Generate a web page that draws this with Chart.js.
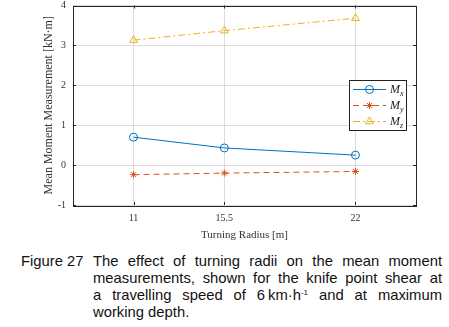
<!DOCTYPE html>
<html lang="en">
<head>
<meta charset="UTF-8">
<title>Turning radius vs mean moment</title>
<script src="https://cdn.jsdelivr.net/npm/chart.js"></script>
<style>
    body { margin: 0; background: #fff; width: 449px; height: 327px; overflow: hidden; position: relative; }
    #wrap { position: absolute; left: 0; top: 0; width: 449px; height: 242px; }
    .caption { position: absolute; left: 21px; top: 253px; font-family: "Liberation Sans", Arial, sans-serif; font-size: 14.8px; line-height: 17px; color: #111; }
    .caption .num { position: absolute; left: 0; top: 0; white-space: nowrap; }
    .caption .txt { position: absolute; left: 72px; top: 0; width: 349px; }
    .caption .ln { display: block; white-space: nowrap; text-align: justify; text-align-last: justify; }
    .caption .ln.end { text-align-last: left; }
    .caption sup { font-size: 8px; line-height: 0; vertical-align: 5px; }
</style>
</head>
<body>
<div id="wrap"><canvas id="chart" width="449" height="242"></canvas></div>
<div class="caption">
    <span class="num">Figure 27</span>
    <div class="txt">
        <span class="ln">The effect of turning radii on the mean moment</span>
        <span class="ln">measurements, shown for the knife point shear at</span>
        <span class="ln">a travelling speed of 6&#8201;km&middot;h<sup>-1</sup> and at maximum</span>
        <span class="ln end">working depth.</span>
    </div>
</div>
<script>
const radii = [11, 15.5, 22];
const mx = [0.70, 0.43, 0.25];
const my = [-0.24, -0.20, -0.16];
const mz = [3.13, 3.37, 3.68];
const seriesNames = ['x', 'y', 'z'];
const yTitle = 'Mean Moment Measurement [kN\u00b7m]';

const serif = '"Liberation Serif", "Times New Roman", serif';

function pts(vals) {
    return radii.map((r, i) => ({ x: r, y: vals[i] }));
}

// legend drawn inside the plot, MATLAB style
const boxLegend = {
    id: 'boxLegend',
    afterDraw(chart) {
        const ctx = chart.ctx;
        const x0 = 349, y0 = 80, w = 57, h = 50;
        ctx.save();
        ctx.fillStyle = '#fff';
        ctx.fillRect(x0, y0, w, h);
        ctx.strokeStyle = '#222';
        ctx.lineWidth = 1;
        ctx.strokeRect(x0 + 0.5, y0 + 0.5, w, h);
        chart.data.datasets.forEach((ds, i) => {
            const y = 89.5 + i * 16;
            ctx.strokeStyle = ds.borderColor;
            ctx.lineWidth = 1;
            ctx.setLineDash(ds.borderDash || []);
            ctx.beginPath();
            ctx.moveTo(353, y);
            ctx.lineTo(386, y);
            ctx.stroke();
            ctx.setLineDash([]);
            ctx.fillStyle = 'rgba(0,0,0,0)';
            Chart.helpers.drawPoint(ctx, {
                pointStyle: ds.pointStyle, radius: ds.pointRadius, borderWidth: 1, rotation: 0
            }, 369.5, y);
            ctx.fillStyle = '#222';
            ctx.font = 'italic 12px ' + serif;
            ctx.textBaseline = 'middle';
            ctx.fillText('M', 390, y);
            ctx.font = 'italic 8px ' + serif;
            ctx.fillText(seriesNames[i], 400, y + 4);
        });
        ctx.restore();
    }
};

// full box round the plot with inner ticks, plus the y title
const frame = {
    id: 'frame',
    afterDatasetsDraw(chart) {
        const a = chart.chartArea, ctx = chart.ctx;
        const xs = chart.scales.x, ys = chart.scales.y;
        ctx.save();
        ctx.strokeStyle = '#262626';
        ctx.lineWidth = 1;
        ctx.strokeRect(Math.round(a.left) + 0.5, Math.round(a.top) + 0.5, Math.round(a.right - a.left), Math.round(a.bottom - a.top));
        ctx.beginPath();
        ys.ticks.forEach(t => {
            const y = Math.round(ys.getPixelForValue(t.value)) + 0.5;
            ctx.moveTo(a.left, y); ctx.lineTo(a.left + 3, y);
            ctx.moveTo(a.right, y); ctx.lineTo(a.right - 3, y);
        });
        xs.ticks.forEach(t => {
            const x = Math.round(xs.getPixelForValue(t.value)) + 0.5;
            ctx.moveTo(x, a.bottom); ctx.lineTo(x, a.bottom - 3);
            ctx.moveTo(x, a.top); ctx.lineTo(x, a.top + 3);
        });
        ctx.stroke();
        ctx.restore();

        ctx.save();
        ctx.translate(a.left - 24, (a.top + a.bottom) / 2);
        ctx.rotate(-Math.PI / 2);
        ctx.fillStyle = '#333';
        ctx.font = '12px ' + serif;
        ctx.textAlign = 'center';
        ctx.textBaseline = 'middle';
        ctx.fillText(yTitle, 0, 0);
        ctx.restore();
    }
};

new Chart(document.getElementById('chart'), {
    type: 'line',
    data: {
        datasets: [
            { label: 'Mx', data: pts(mx), borderColor: '#0072BD', borderWidth: 1, pointStyle: 'circle', pointRadius: 4 },
            { label: 'My', data: pts(my), borderColor: '#D95319', borderWidth: 1, borderDash: [6, 4], pointStyle: 'star', pointRadius: 3.5 },
            { label: 'Mz', data: pts(mz), borderColor: '#EDB120', borderWidth: 1, borderDash: [7, 3, 2, 3], pointStyle: 'triangle', pointRadius: 4.5 }
        ].map(d => Object.assign(d, { backgroundColor: 'transparent', pointBorderColor: d.borderColor, pointBackgroundColor: 'transparent', pointBorderWidth: 1, tension: 0 }))
    },
    options: {
        responsive: false,
        animation: false,
        layout: { padding: { top: 0, right: 33, left: 0, bottom: 0 } },
        plugins: { legend: { display: false }, tooltip: { enabled: false } },
        scales: {
            x: {
                type: 'linear', min: 8, max: 25,
                afterBuildTicks: s => { s.ticks = radii.map(v => ({ value: v })); },
                afterFit: s => { s.height = 37; },
                grid: { color: '#dcdcdc', drawTicks: false },
                border: { display: false },
                ticks: { color: '#333', font: { family: serif, size: 10 }, padding: 7, callback: v => String(v) },
                title: { display: true, text: 'Turning Radius [m]', color: '#333', font: { family: serif, size: 11 }, padding: { top: 2, bottom: 0 } }
            },
            y: {
                min: -1, max: 4,
                afterFit: s => { s.width = 73; s.paddingTop = 4; s.paddingBottom = 5; },
                grid: { color: '#dcdcdc', drawTicks: false },
                border: { display: false },
                ticks: { stepSize: 1, color: '#333', font: { family: serif, size: 10 }, padding: 7 }
            }
        }
    },
    plugins: [frame, boxLegend]
});
</script>
</body>
</html>
